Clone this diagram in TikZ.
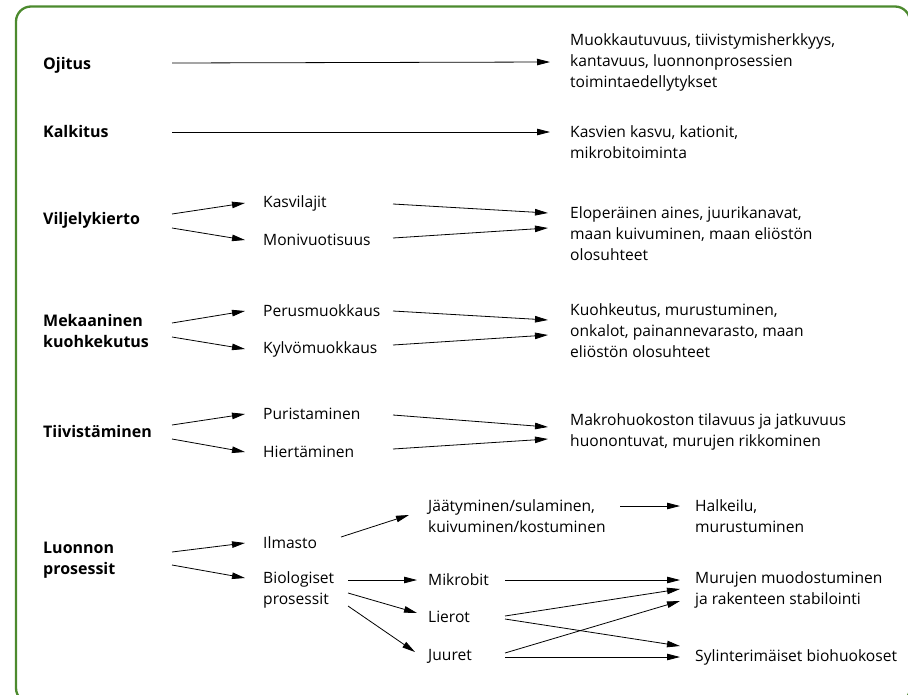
\documentclass[tikz,border=0pt]{standalone}
\usepackage{fontspec}
\setmainfont{Open Sans}
\usetikzlibrary{arrows.meta,calc}
\definecolor{frame}{HTML}{4C8A2E}
\begin{document}
\begin{tikzpicture}[x=1pt,y=-1pt,
  arr/.style={-{Triangle[length=13pt,width=6.5pt]},line width=0.8pt},
  head/.style={anchor=west,inner sep=0pt,font=\fontsize{16}{21.5}\selectfont\bfseries,align=left},
  txt/.style={anchor=west,inner sep=0pt,font=\fontsize{15.6}{21}\selectfont,align=left}]
\useasboundingbox (0,0) rectangle (908,694);
\draw[frame,line width=2.3pt,rounded corners=15pt] (16,6.5) rectangle (910,703);
% column coordinates
\coordinate (cA) at (172,0);
\coordinate (cB) at (393,0);
\coordinate (cI) at (341,0);
\coordinate (cE) at (348,0);
\coordinate (cC) at (620,0);
\coordinate (cD) at (505,0);
% left headings
\node[head] (oji)  at (43,65)  {Ojitus};
\node[head] (kalk) at (43,131) {Kalkitus};
\node[head] (vil)  at (43,220) {Viljelykierto};
\node[head] (mek)  at (43,331) {Mekaaninen\\kuohkekutus};
\node[head] (tii)  at (43,431) {Tiivistäminen};
\node[head] (luo)  at (43,560) {Luonnon\\prosessit};
% middle column
\node[txt] (kasv)  at (263,203) {Kasvilajit};
\node[txt] (moni)  at (263,240) {Monivuotisuus};
\node[txt] (perus) at (263,311) {Perusmuokkaus};
\node[txt] (kylvo) at (263,349) {Kylvömuokkaus};
\node[txt] (puri)  at (263,414) {Puristaminen};
\node[txt] (hier)  at (263,452) {Hiertäminen};
\node[txt] (ilm)   at (263,543) {Ilmasto};
\node[txt] (bio)   at (263,590) {Biologiset\\prosessit};
% third column
\node[txt] (jaa) at (428,516) {Jäätyminen/sulaminen,\\kuivuminen/kostuminen};
\node[txt] (mik) at (428,580) {Mikrobit};
\node[txt] (lie) at (428,617) {Lierot};
\node[txt] (juu) at (428,656) {Juuret};
% right column
\node[txt] (r1) at (570,62)  {Muokkautuvuus, tiivistymisherkkyys,\\kantavuus, luonnonprosessien\\toimintaedellytykset};
\node[txt] (r2) at (570,142) {Kasvien kasvu, kationit,\\mikrobitoiminta};
\node[txt] (r3) at (570,234) {Eloperäinen aines, juurikanavat,\\maan kuivuminen, maan eliöstön\\olosuhteet};
\node[txt] (r4) at (570,331) {Kuohkeutus, murustuminen,\\onkalot, painannevarasto, maan\\eliöstön olosuhteet};
\node[txt] (r5) at (570,432) {Makrohuokoston tilavuus ja jatkuvuus\\huonontuvat, murujen rikkominen};
% far right
\node[txt] (halk) at (695,516) {Halkeilu,\\murustuminen};
\node[txt] (muru) at (695,590) {Murujen muodostuminen\\ja rakenteen stabilointi};
\node[txt] (syl)  at (695,657) {Sylinterimäiset biohuokoset};
% arrows: single
\draw[arr] ($(cA)+(0,63)$) -- ($(r1.west)+(-20,0)$);
\draw[arr] ($(cA)+(0,132)$) -- ($(r2.west |- cA)+(-20,132)$);
% Viljelykierto
\draw[arr] ($(cA)+(0,214)$) -- ($(kasv.west)+(-18,0)$);
\draw[arr] ($(cA)+(0,228)$) -- ($(moni.west)+(-18,0)$);
\draw[arr] ($(cB)+(0,204)$) -- ($(r3.west |- cA)+(-22,213)$);
\draw[arr] ($(cB)+(0,238)$) -- ($(r3.west |- cA)+(-22,228)$);
% Mekaaninen
\draw[arr] ($(cA)+(0,323)$) -- ($(perus.west)+(-18,0)$);
\draw[arr] ($(cA)+(0,337)$) -- ($(kylvo.west)+(-18,0)$);
\draw[arr] ($(cB)+(0,311)$) -- ($(r4.west |- cA)+(-22,320)$);
\draw[arr] ($(cB)+(0,345)$) -- ($(r4.west |- cA)+(-22,335)$);
% Tiivistaminen
\draw[arr] ($(cA)+(0,425)$) -- ($(puri.west)+(-18,0)$);
\draw[arr] ($(cA)+(0,439)$) -- ($(hier.west)+(-18,0)$);
\draw[arr] ($(cB)+(0,415)$) -- ($(r5.west |- cA)+(-22,427)$);
\draw[arr] ($(cB)+(0,449)$) -- ($(r5.west |- cA)+(-22,439)$);
% Luonnon prosessit
\draw[arr] ($(cA)+(0,552)$) -- ($(ilm.west)+(-18,0)$);
\draw[arr] ($(cA)+(0,565)$) -- ($(bio.west)+(-18,-12)$);
\draw[arr] ($(cI)+(0,537)$) -- ($(jaa.west)+(-19,-1)$);
\draw[arr] ($(cC)+(0,506)$) -- ($(halk.west)+(-15,-10)$);
\draw[arr] ($(cE)+(0,580)$) -- ($(mik.west)+(-11,0)$);
\draw[arr] ($(cE)+(0,593)$) -- ($(lie.west)+(-11,-4)$);
\draw[arr] ($(cE)+(0,606)$) -- ($(juu.west)+(-13,-4)$);
\draw[arr] ($(cD)+(0,580)$) -- ($(muru.west)+(-15,-10)$);
\draw[arr] ($(cD)+(0,616)$) -- ($(muru.west)+(-15,-1)$);
\draw[arr] ($(cD)+(0,619)$) -- ($(syl.west)+(-15,-11)$);
\draw[arr] ($(cD)+(0,653)$) -- ($(muru.west)+(-15,11)$);
\draw[arr] ($(cD)+(0,657)$) -- ($(syl.west)+(-15,0)$);
\end{tikzpicture}
\end{document}
